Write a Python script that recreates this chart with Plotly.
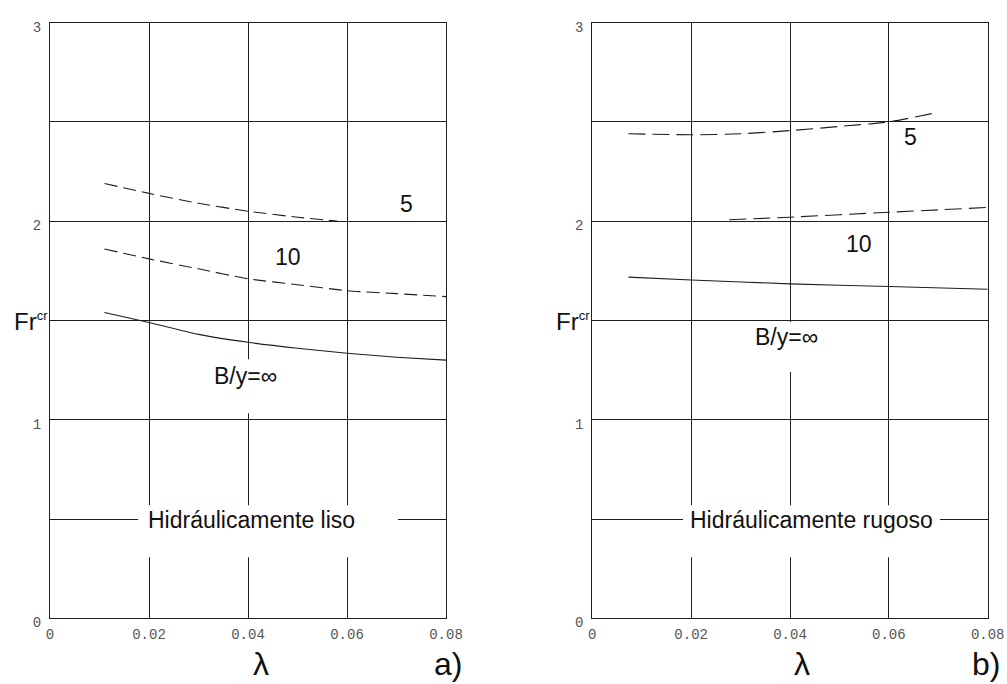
import plotly.graph_objects as go

# ---------------- data ----------------
x_ticks = [0, 0.02, 0.04, 0.06, 0.08]
x_ticktext = ["0", "0.02", "0.04", "0.06", "0.08"]
y_ticks = [0, 1, 2, 3]
y_ticktext = ["0", "1", "2", "3"]
y_minor_step = 0.5

# a) Hidráulicamente liso
lam_a_5 = [0.011, 0.02, 0.03, 0.04, 0.05, 0.058]
fr_a_5 = [2.19, 2.14, 2.09, 2.05, 2.02, 2.0]
lam_a_10 = [0.011, 0.02, 0.03, 0.04, 0.05, 0.06, 0.07, 0.08]
fr_a_10 = [1.86, 1.81, 1.76, 1.71, 1.68, 1.65, 1.635, 1.62]
lam_a_inf = [0.011, 0.02, 0.03, 0.04, 0.05, 0.06, 0.07, 0.08]
fr_a_inf = [1.54, 1.49, 1.43, 1.39, 1.36, 1.335, 1.315, 1.30]

# b) Hidráulicamente rugoso
lam_b_5 = [0.0073, 0.02, 0.03, 0.04, 0.05, 0.06, 0.0697]
fr_b_5 = [2.44, 2.435, 2.44, 2.456, 2.477, 2.50, 2.547]
lam_b_10 = [0.0277, 0.04, 0.06, 0.08]
fr_b_10 = [2.007, 2.02, 2.045, 2.069]
lam_b_inf = [0.0073, 0.02, 0.04, 0.06, 0.08]
fr_b_inf = [1.718, 1.704, 1.684, 1.671, 1.657]

# labels: (text, lambda, Fr)
labels_a = [("5", 0.0721, 2.086), ("10", 0.0481, 1.819), ("B/y=∞", 0.0394, 1.219)]
labels_b = [("5", 0.0644, 2.423), ("10", 0.0540, 1.886), ("B/y=∞", 0.0393, 1.419)]
regime_a = ("Hidráulicamente liso", 0.0407, 0.494)
regime_b = ("Hidráulicamente rugoso", 0.0444, 0.495)

# ---------------- styling ----------------
W, H = 1007, 684
LC = "#1e1e1e"
TXT = "Liberation Sans, Arial, sans-serif"
TICKFONT = dict(family="Liberation Sans Narrow, Liberation Mono, monospace", size=14, color="#555")

fig = go.Figure()

def add_line(x, y, xa, ya, dash):
    fig.add_trace(go.Scatter(x=x, y=y, xaxis=xa, yaxis=ya, mode="lines",
                             line=dict(color=LC, width=1.1, dash=dash, shape="spline", smoothing=0.6),
                             showlegend=False, hoverinfo="skip"))

add_line(lam_a_5, fr_a_5, "x", "y", "13px,6px")
add_line(lam_a_10, fr_a_10, "x", "y", "13px,6px")
add_line(lam_a_inf, fr_a_inf, "x", "y", "solid")
add_line(lam_b_5, fr_b_5, "x2", "y2", "17px,7px")
add_line(lam_b_10, fr_b_10, "x2", "y2", "17px,7px")
add_line(lam_b_inf, fr_b_inf, "x2", "y2", "solid")

ydom = [1 - 618.3 / H, 1 - 22.6 / H]
xax = dict(range=[0, 0.08], tickvals=x_ticks, ticktext=x_ticktext, showgrid=True,
           gridcolor=LC, gridwidth=1, showline=True, mirror=True, linecolor=LC, linewidth=1,
           zeroline=False, ticks="", tickfont=TICKFONT, ticklabelstandoff=3, automargin=False)
yax = dict(range=[0, 3], tickvals=y_ticks, ticktext=y_ticktext, showgrid=True,
           gridcolor=LC, gridwidth=1, showline=True, mirror=True, linecolor=LC, linewidth=1,
           zeroline=False, ticks="", tickfont=TICKFONT, ticklabelstandoff=5, ticklabelshift=4,
           automargin=False,
           minor=dict(dtick=y_minor_step, showgrid=True, gridcolor=LC, gridwidth=1, ticks=""))

fig.update_layout(
    template="none",
    width=W, height=H, margin=dict(l=0, r=0, t=0, b=0, autoexpand=False),
    paper_bgcolor="white", plot_bgcolor="white", showlegend=False,
    xaxis=dict(xax, domain=[50 / W, 446 / W], anchor="y"),
    yaxis=dict(yax, domain=ydom, anchor="x"),
    xaxis2=dict(xax, domain=[592.3 / W, 987.7 / W], anchor="y2"),
    yaxis2=dict(yax, domain=ydom, anchor="x2"),
)

# white masks that break grid lines behind labels
masks = [
    ("x", "y", 0.0178, 0.0703, 0.307, 0.569),
    ("x", "y", 0.0313, 0.0485, 1.033, 1.305),
    ("x2", "y2", 0.01835, 0.07035, 0.307, 0.569),
    ("x2", "y2", 0.031, 0.048, 1.24, 1.492),
]
for xr, yr, x0, x1, y0, y1 in masks:
    fig.add_shape(type="rect", xref=xr, yref=yr, x0=x0, x1=x1, y0=y0, y1=y1,
                  fillcolor="white", line=dict(width=0), layer="above")

for xr, yr, labs, reg in [("x", "y", labels_a, regime_a), ("x2", "y2", labels_b, regime_b)]:
    for t, lx, ly in labs:
        fig.add_annotation(text=t, x=lx, y=ly, xref=xr, yref=yr, showarrow=False,
                           font=dict(family=TXT, size=23, color="#111"))
    fig.add_annotation(text=reg[0], x=reg[1], y=reg[2], xref=xr, yref=yr, showarrow=False,
                       font=dict(family=TXT, size=23, color="#111"))

# Fr^cr axis labels
for xp in [12, 554]:
    fig.add_annotation(text='Fr<sup><span style="font-size:13px">cr</span></sup>',
                       x=xp / W, y=1 - 321 / H, xref="paper", yref="paper",
                       xanchor="left", yanchor="middle", showarrow=False,
                       font=dict(family=TXT, size=24, color="#111"))

# lambda and panel labels
for t, xp in [("λ", 261), ("a)", 448), ("λ", 802), ("b)", 986)]:
    fig.add_annotation(text=t, x=xp / W, y=0, xref="paper", yref="paper",
                       xanchor="center", yanchor="bottom", showarrow=False,
                       font=dict(family=TXT, size=32, color="#111"))

fig.write_html("out.html")
